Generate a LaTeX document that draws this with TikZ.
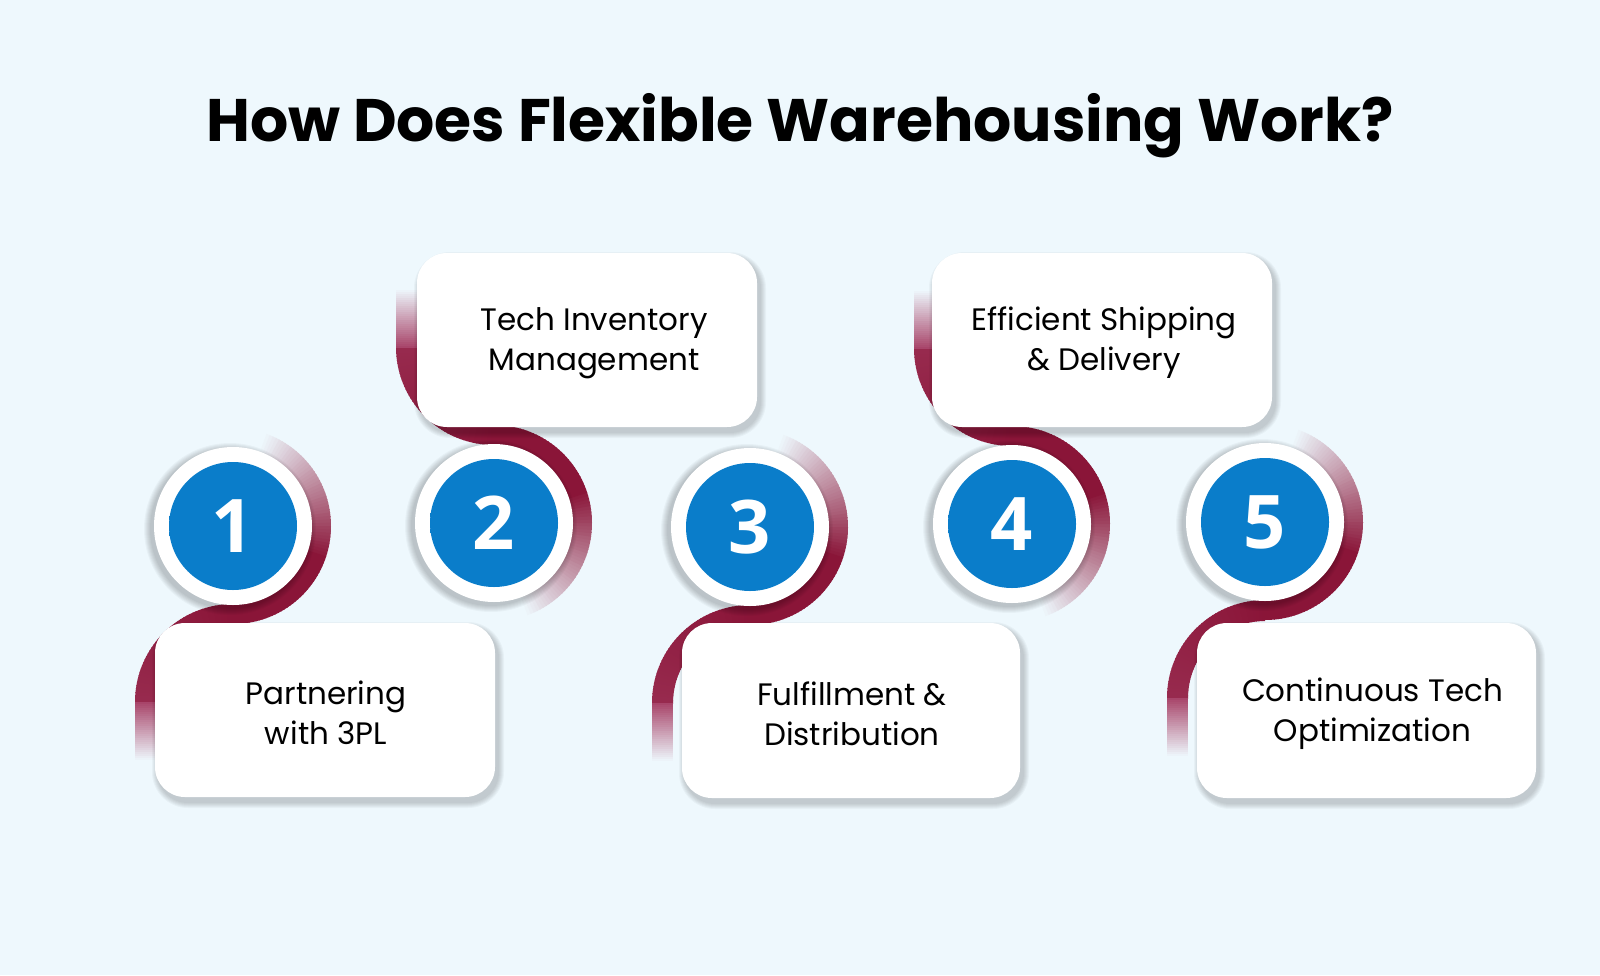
\documentclass[tikz,border=0pt]{standalone}
\usepackage{fontspec}
\setmainfont{Poppins}
\newfontfamily\numfont{Open Sans}
\definecolor{bg}{HTML}{EEF8FD}
\definecolor{crim}{HTML}{8A1538}
\definecolor{crimlight}{HTML}{A8456A}
\definecolor{blueA}{HTML}{0A7DCA}
\definecolor{blueB}{HTML}{0A5A98}
\pgfdeclareradialshading{bluedisc}{\pgfpoint{0bp}{0bp}}{color(0bp)=(blueA); color(36bp)=(blueA); color(50bp)=(blueB)}
\tikzset{
  boxstyle/.style={fill=white, rounded corners=30pt, align=center, inner sep=0pt,
    font=\fontsize{31}{40}\selectfont, text=black},
  ring/.style={circle, fill=white, minimum size=158pt, inner sep=0pt},
  disc/.style={circle, shading=bluedisc, minimum size=128pt, inner sep=0pt,
    text=white, font=\numfont\bfseries\fontsize{74}{74}\selectfont},
  boxtext/.style={align=center, inner sep=0pt, font=\fontsize{31}{40}\selectfont, text=black},
}
\newcommand\swoosh[3]{%
\begin{scope}[shift={(#1,#2)},yscale=#3]
 \foreach \a in {-72,-70,...,88}{
   \pgfmathtruncatemacro\p{min(100,max(0,100*(\a+72)/90))}
   \fill[crim!\p!bg] (\a:98) arc[start angle=\a,end angle=\a+2.6,radius=98] -- (\a+2.6:77) arc[start angle=\a+2.6,end angle=\a,radius=77] -- cycle;
 }
 \begin{scope}[shift={(0,176)}]
 \foreach \a in {-90,-92,...,-178}{
   \pgfmathtruncatemacro\p{100-45*(-90-\a)/90}
   \fill[crim!\p!crimlight] (\a:98) arc[start angle=\a,end angle=\a-2.6,radius=98] -- (\a-2.6:77) arc[start angle=\a-2.6,end angle=\a,radius=77] -- cycle;
 }
 \foreach \k in {0,...,29}{
   \pgfmathtruncatemacro\p{100-100*\k/29}
   \fill[crimlight!\p!bg] (-98,{\k*2-0.5}) rectangle (-77,{\k*2+2});
 }
 \end{scope}
\end{scope}}
\newcommand\stepbox[8]{%
 \foreach \k in {1,...,6}{\fill[black,opacity=0.03,rounded corners=30+\k] ({#2+3-\k},{#3+5-\k}) rectangle ({#4+3+\k},{#5+5+\k});}
 \node[boxstyle, minimum width={#4-#2}, minimum height={#5-#3}] (#1) at ({(#2+#4)/2},{(#3+#5)/2}) {};
 \node[boxtext] (#1t) at ($(#1.center)+(#7,#8)$) {#6};
}
\newcommand\stepcircle[4]{%
 \foreach \k in {1,...,7}{\fill[black,opacity=0.03] ({#2-3},{#3+3}) circle ({79+\k});}
 \node[ring] (#1r) at (#2,#3) {};
 \node[disc] (#1) at (#2,#3) {#4};
}
\usetikzlibrary{calc}
\begin{document}
\begin{tikzpicture}[x=1pt,y=-1pt]
\fill[bg] (0,0) rectangle (1600,975);
\useasboundingbox (0,0) rectangle (1600,975);
\node[font=\fontsize{60}{64}\selectfont\bfseries] (title) at (800,126) {How Does Flexible Warehousing Work?};
% swooshes
\swoosh{233}{526}{1}
\swoosh{494}{523}{-1}
\swoosh{750}{527}{1}
\swoosh{1012}{524}{-1}
\swoosh{1265}{522}{1}
% boxes
\stepbox{b1}{155}{623}{495}{797}{Partnering\\with 3PL}{1}{3}
\stepbox{b2}{417}{253}{757}{427}{Tech Inventory\\Management}{7}{3}
\stepbox{b3}{682}{623}{1020}{798}{Fulfillment \&\\Distribution}{1}{3}
\stepbox{b4}{932}{253}{1272}{427}{Efficient Shipping\\\& Delivery}{2}{3}
\stepbox{b5}{1197}{623}{1536}{798}{Continuous Tech\\Optimization}{6}{3}
% circles
\stepcircle{c1}{233}{526}{1}
\stepcircle{c2}{494}{523}{2}
\stepcircle{c3}{750}{527}{3}
\stepcircle{c4}{1012}{524}{4}
\stepcircle{c5}{1265}{522}{5}
\end{tikzpicture}
\end{document}
